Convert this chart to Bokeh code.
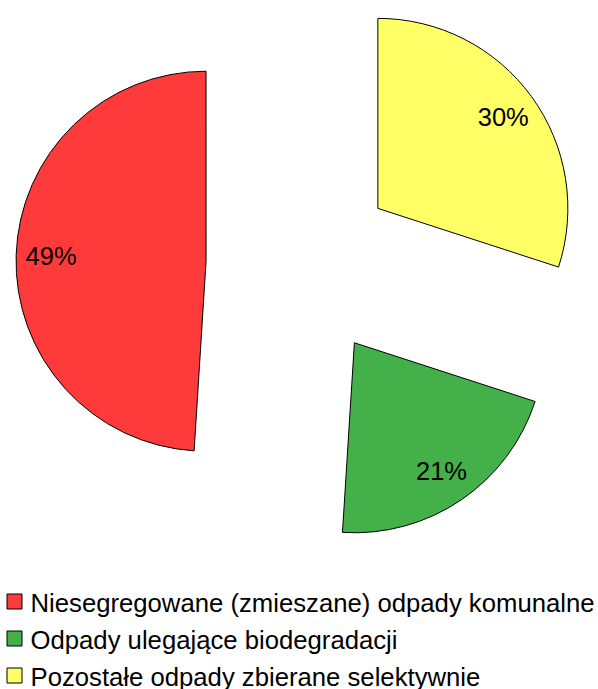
import numpy as np
from bokeh.plotting import figure
from bokeh.models import Range1d, ColumnDataSource
from bokeh.core.properties import value
from bokeh.embed import file_html
from bokeh.resources import INLINE

# ---- data ----
categories = [
    "Niesegregowane (zmieszane) odpady komunalne",
    "Odpady ulegające biodegradacji",
    "Pozostałe odpady zbierane selektywnie",
]
shares = [49, 21, 30]
colors = ["#ff3a3a", "#43b04a", "#ffff66"]

# ---- layout (screen-like coordinates, y up = 689 - screen_y) ----
W, H = 598, 689
PAGE_H = 689
cx, cy = 300.5, PAGE_H - 263.7
R = 190.0
EXPLODE = 95.0
LABEL_R = EXPLODE + 155.0

p = figure(width=W, height=H, output_backend="svg", toolbar_location=None,
           x_range=Range1d(0, W), y_range=Range1d(0, H),
           x_axis_type=None, y_axis_type=None, min_border=0,
           background_fill_color="white", border_fill_color="white")
p.grid.visible = False
p.outline_line_color = None

vals = np.array(shares, dtype=float)
fr = vals / vals.sum()
cum = np.concatenate([[0], np.cumsum(fr)])
start = np.pi / 2 + 2 * np.pi * cum[:-1]
end = np.pi / 2 + 2 * np.pi * cum[1:]
mid = (start + end) / 2
xs = cx + EXPLODE * np.cos(mid)
ys = cy + EXPLODE * np.sin(mid)

src = ColumnDataSource(dict(x=xs, y=ys, s=start, e=end, c=colors,
                            lx=cx + LABEL_R * np.cos(mid), ly=cy + LABEL_R * np.sin(mid),
                            lab=[f"{v:.0f}%" for v in fr * 100]))
p.wedge(x="x", y="y", radius=R, start_angle="s", end_angle="e", direction="anticlock",
        fill_color="c", line_color="black", line_width=1, source=src)
p.text(x="lx", y="ly", text="lab", text_align="center", text_baseline="middle",
       text_font=value("Liberation Sans"), text_font_size="25.5px", text_color="black",
       source=src)

# ---- legend ----
n = len(categories)
row_y = np.array([PAGE_H - (601 + 37 * i) for i in range(n)], dtype=float)
p.rect(x=[14] * n, y=row_y, width=15, height=15, fill_color=colors,
       line_color="black", line_width=1)
p.text(x=[30] * n, y=row_y - 1.5, text=categories, text_align="left",
       text_baseline="middle", text_font=value("Liberation Sans"),
       text_font_size="25.7px", text_color="black")

open("out.html", "w").write(file_html(p, INLINE))
